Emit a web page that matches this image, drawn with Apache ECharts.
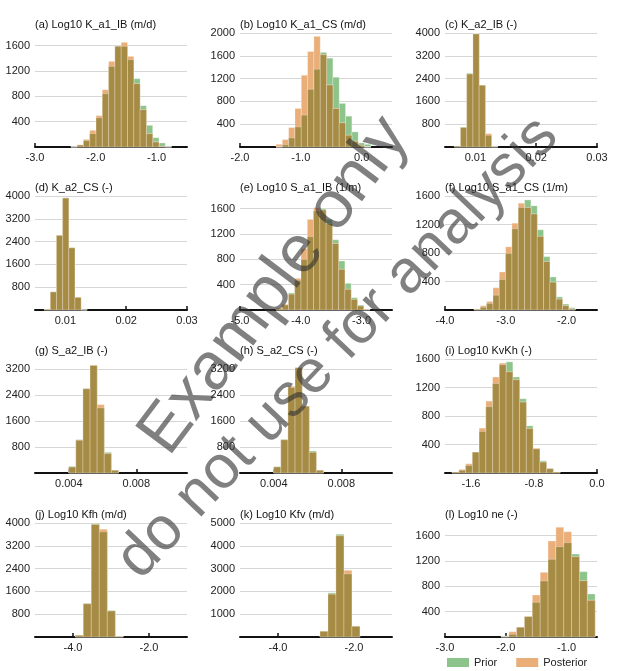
<!DOCTYPE html>
<html><head><meta charset="utf-8">
<script src="https://cdn.jsdelivr.net/npm/echarts@6/dist/echarts.min.js"></script>
<style>html,body{margin:0;padding:0;background:#fff}#c{width:624px;height:671px}</style>
</head><body><div id="c"></div>
<script>
// ---------- DATA ----------
const titles = ['(a) Log10 K_a1_IB (m/d)','(b) Log10 K_a1_CS (m/d)','(c) K_a2_IB (-)',
  '(d) K_a2_CS (-)','(e) Log10 S_a1_IB (1/m)','(f) Log10 S_a1_CS (1/m)',
  '(g) S_a2_IB (-)','(h) S_a2_CS (-)','(i) Log10 KvKh (-)',
  '(j) Log10 Kfh (m/d)','(k) Log10 Kfv (m/d)','(l) Log10 ne (-)'];

// bin start / bin width per panel
const binStart = [-2.41, -1.408, 0.00654, 0.00652, -4.408, -3.523, 0.0040, 0.0040, -1.839, -3.938, -2.895, -2.079];
const binWidth = [0.1035, 0.104, 0.00102, 0.00101, 0.103, 0.104, 0.00042, 0.00042, 0.0856, 0.21, 0.21, 0.129];

const aPrior = [10,30,100,210,463,842,1273,1590,1590,1379,1079,652,342,147,63,10];
const aPost  = [0,35,120,263,495,905,1352,1590,1652,1431,1000,589,210,79,10,0];
const bPrior = [0,40,160,353,559,1012,1365,1660,1559,1224,765,541,265,71,47];
const bPost  = [47,130,341,676,1259,1676,1941,1620,1088,676,424,206,100,29,0];
const cPrior = [35,700,2590,3965,2165,410,10];
const cPost  = [35,680,2560,3965,2165,470,20];
const dPrior = [25,640,2620,3940,2180,440,5];
const dPost  = [25,633,2615,3925,2185,445,5];
const ePrior = [20,80,270,470,800,1158,1563,1600,1431,1110,774,421,195,79,10];
const ePost  = [30,90,250,500,968,1431,1616,1579,1363,1050,642,326,168,63,8];
const fPrior = [10,37,92,207,428,795,1140,1439,1545,1462,1126,749,464,184,83,32];
const fPost  = [10,60,120,313,533,887,1218,1499,1439,1347,1034,680,391,152,60,14];
const gPrior = [205,1025,2590,3300,2000,636,82];
const gPost  = [185,1005,2585,3300,2100,595,85];
const hPrior = [200,1025,2625,3230,2050,677,82];
const hPost  = [185,1020,2660,3230,2050,636,82];
const iPrior = [14,37,106,292,583,931,1255,1519,1560,1347,1042,662,338,171,60,14];
const iPost  = [14,51,130,292,630,1009,1347,1542,1421,1310,995,625,347,153,60,14];
const jPrior = [58,1175,3970,3690,935,20];
const jPost  = [58,1165,3950,3785,911,20];
const kPrior = [247,1936,4512,2766,466];
const kPost  = [247,1878,4440,2926,466];
const lPrior = [16,42,153,321,547,884,1226,1426,1489,1310,1032,679];
const lPost  = [5,84,153,321,663,1021,1516,1732,1663,1268,889,579];

const xMin = [-3, -2, 0.005, 0.005, -5, -4, 0.002, 0.002, -1.93, -5, -5, -3];
const xMax = [-0.5, 0.5, 0.03, 0.03, -2.5, -1.5, 0.011, 0.011, 0, -1, -1, -0.5];
const xTicks = [[-3,-2,-1],[-2,-1,0],[0.01,0.02,0.03],[0.01,0.02,0.03],[-5,-4,-3],[-4,-3,-2],
  [0.004,0.008],[0.004,0.008],[-1.6,-0.8,0],[-4,-2],[-4,-2],[-3,-2,-1]];
const xDecimals = [1,1,2,2,1,1,3,3,1,1,1,1];
const yMax = [1800,2000,4000,4000,1800,1600,3500,3500,1600,4000,5000,1800];
const yTicks = [[400,800,1200,1600],[400,800,1200,1600,2000],[800,1600,2400,3200,4000],
  [800,1600,2400,3200,4000],[400,800,1200,1600],[400,800,1200,1600],
  [800,1600,2400,3200],[800,1600,2400,3200],[400,800,1200,1600],
  [800,1600,2400,3200,4000],[1000,2000,3000,4000,5000],[400,800,1200,1600]];

const priors = [aPrior,bPrior,cPrior,dPrior,ePrior,fPrior,gPrior,hPrior,iPrior,jPrior,kPrior,lPrior];
const posts  = [aPost,bPost,cPost,dPost,ePost,fPost,gPost,hPost,iPost,jPost,kPost,lPost];

// ---------- LAYOUT / STYLE ----------
const GREEN = '#8dc48b', ORANGE = '#eaae79', OLIVE = '#a68b45';
const FONT = '"Liberation Sans", Arial, sans-serif';
const colLeft = [35, 240, 445], plotW = 152;
const rowTop = [33, 196, 359, 523], plotH = 114;

const grids = [], xAxes = [], yAxes = [], series = [], titleArr = [];
function binsOf(p, arr) {
  return arr.map((v, i) => [binStart[p] + i * binWidth[p], binStart[p] + (i + 1) * binWidth[p], v]);
}
function makeRender(fill) {
  return function (params, api) {
    const p0 = api.coord([api.value(0), 0]);
    const p1 = api.coord([api.value(1), api.value(2)]);
    return {type: 'rect', shape: {x: p0[0], y: p1[1], width: p1[0] - p0[0], height: p0[1] - p1[1]},
      style: {fill: fill, stroke: 'rgba(255,255,255,0.35)', lineWidth: 0.8}};
  };
}
for (let p = 0; p < 12; p++) {
  const r = Math.floor(p / 3), c = p % 3;
  grids.push({left: colLeft[c], top: rowTop[r], width: plotW, height: plotH});
  titleArr.push({text: titles[p], left: colLeft[c], top: rowTop[r] - 14, padding: 0,
    textStyle: {fontSize: 11, fontWeight: 'normal', color: '#111', fontFamily: FONT}});
  const dec = xDecimals[p];
  xAxes.push({type: 'value', gridIndex: p, min: xMin[p], max: xMax[p],
    axisLine: {show: true, onZero: false, lineStyle: {color: '#111', width: 2}},
    axisTick: {show: true, inside: true, length: 4, customValues: xTicks[p], lineStyle: {color: '#111', width: 1.5}},
    axisLabel: {customValues: xTicks[p], fontSize: 11, color: '#222', margin: 5, fontFamily: FONT,
      formatter: v => v.toFixed(dec)},
    splitLine: {show: false}});
  yAxes.push({type: 'value', gridIndex: p, min: 0, max: yMax[p],
    axisLine: {show: false},
    axisTick: {show: false, customValues: yTicks[p]},
    axisLabel: {customValues: yTicks[p], fontSize: 11, color: '#222', margin: 5, fontFamily: FONT,
      formatter: v => String(Math.round(v))},
    splitLine: {show: true, lineStyle: {color: '#d6d6d6', width: 1}}});
  const pr = priors[p], po = posts[p];
  const ov = pr.map((v, i) => Math.min(v, po[i]));
  series.push({type: 'custom', name: 'Prior', xAxisIndex: p, yAxisIndex: p, itemStyle: {color: GREEN},
    renderItem: makeRender(GREEN), encode: {x: [0, 1], y: 2}, data: binsOf(p, pr), z: 2});
  series.push({type: 'custom', name: 'Posterior', xAxisIndex: p, yAxisIndex: p, itemStyle: {color: ORANGE},
    renderItem: makeRender(ORANGE), encode: {x: [0, 1], y: 2}, data: binsOf(p, po), z: 3});
  series.push({type: 'custom', name: 'overlap', xAxisIndex: p, yAxisIndex: p, itemStyle: {color: OLIVE},
    renderItem: makeRender(OLIVE), encode: {x: [0, 1], y: 2}, data: binsOf(p, ov), z: 4});
}

const chart = echarts.init(document.getElementById('c'), null, {renderer: 'canvas'});
chart.setOption({
  animation: false,
  backgroundColor: '#fff',
  title: titleArr,
  grid: grids, xAxis: xAxes, yAxis: yAxes, series: series,
  legend: {data: ['Prior', 'Posterior'], left: 447, top: 657, padding: 0, itemWidth: 22, itemHeight: 9, itemGap: 19,
    icon: 'rect', textStyle: {fontSize: 11, color: '#222', fontFamily: FONT}, selectedMode: false},
  graphic: [
    {type: 'text', x: 275, y: 286, rotation: 53 * Math.PI / 180, z: 100,
      style: {text: 'Example only', font: '67px ' + FONT, fill: 'rgba(50,50,50,0.62)', align: 'center', verticalAlign: 'middle'}},
    {type: 'text', x: 338, y: 348, rotation: 46.5 * Math.PI / 180, z: 100,
      style: {text: 'do not use for analysis', font: '61px ' + FONT, fill: 'rgba(50,50,50,0.62)', align: 'center', verticalAlign: 'middle'}}
  ]
});
</script></body></html>
